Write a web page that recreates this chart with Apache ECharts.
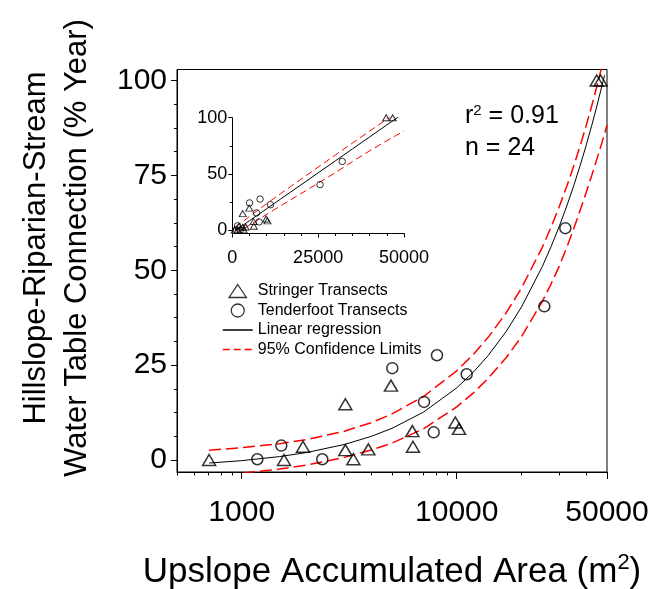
<!DOCTYPE html>
<html><head><meta charset="utf-8">
<script src="https://cdn.jsdelivr.net/npm/echarts@6/dist/echarts.min.js"></script>
<style>html,body{margin:0;padding:0;background:#fff}#c{width:662px;height:589px}</style>
</head><body><div id="c"></div>
<script>
// ---- data ----
const stringerArea = [705, 1573, 1927, 3034, 3034, 3305, 3881, 4946, 6216, 6260, 9850, 10250, 44800, 46700];
const stringerConn = [0, 0, 3.5, 14.7, 2.6, 0.2, 2.8, 19.6, 7.6, 3.5, 9.9, 8.2, 100, 100];
const tenderfootArea = [1182, 1528, 2370, 5016, 7046, 7816, 8095, 11125, 25550, 32000];
const tenderfootConn = [0.2, 3.8, 0.2, 24.2, 15.3, 7.3, 27.6, 22.6, 40.5, 61.1];
const fitArea = [705, 1000, 1500, 2000, 3000, 4000, 5000, 7000, 10000, 12000, 14000, 17000, 20000, 25000, 27500, 30000, 32500, 35000, 37500, 40000, 42500, 45000, 48700];
const fitConn = [-0.8, -0.17, 0.9, 1.96, 4.09, 6.22, 8.35, 12.61, 19.0, 23.26, 27.52, 33.91, 40.3, 50.95, 56.28, 61.6, 66.93, 72.25, 77.58, 82.9, 88.23, 93.55, 101.4];
const upperArea = [705, 1000, 1500, 2000, 3000, 4000, 5000, 7000, 10000, 12000, 14000, 17000, 20000, 25000, 27500, 30000, 32500, 35000, 37500, 40000, 42500, 45000, 47500];
const upperConn = [2.6, 3.23, 4.3, 5.36, 7.59, 9.82, 12.15, 16.71, 23.5, 27.91, 32.32, 38.81, 45.3, 56.05, 61.43, 66.8, 72.13, 77.45, 82.78, 88.1, 93.43, 98.75, 104.1];
const lowerArea = [705, 1000, 1500, 2000, 3000, 4000, 5000, 7000, 10000, 12000, 14000, 17000, 20000, 25000, 27500, 30000, 32500, 35000, 37500, 40000, 42500, 45000, 47500, 50000];
const lowerConn = [-4.1, -3.47, -2.4, -1.34, 0.69, 2.62, 4.45, 8.21, 14.0, 17.76, 21.52, 27.01, 32.5, 41.75, 46.43, 51.1, 56.03, 60.95, 65.78, 70.5, 75.03, 79.55, 83.88, 88.2];

const mainXMajorTicks = [1000, 10000, 50000];
const mainXMinorTicks = [500, 600, 700, 800, 900, 2000, 3000, 4000, 5000, 6000, 7000, 8000, 9000, 20000, 30000, 40000];
const mainYMajorTicks = [0, 25, 50, 75, 100];
const mainYMinorTicks = [6.25, 12.5, 18.75, 31.25, 37.5, 43.75, 56.25, 62.5, 68.75, 81.25, 87.5, 93.75];
const insetYMajorTicks = [0, 50, 100];
const insetYMinorTicks = [25, 75];

const NAMES = ['Stringer Transects', 'Tenderfoot Transects', 'Linear regression', '95% Confidence Limits'];
const FONT = 'Liberation Sans';

const zip = (a, b) => a.map((v, i) => [v, b[i]]);
const lg = v => Math.log10(v);

const chart = echarts.init(document.getElementById('c'), null, {renderer: 'canvas'});

const hiddenLine = {show: false, onZero: false};
const option = {
  animation: false,
  textStyle: {fontFamily: FONT, color: '#000'},
  grid: [
    {left: 177, top: 69.5, width: 430, height: 402.5, show: true, borderColor: '#000', borderWidth: 1, backgroundColor: 'transparent'},
    {left: 232.3, top: 117.7, width: 171.7, height: 115.8, show: false}
  ],
  legend: {
    left: 217, top: 278, orient: 'vertical', itemWidth: 30, itemHeight: 13, itemGap: 3.5,
    selectedMode: false, symbolKeepAspect: true,
    textStyle: {fontSize: 16, fontFamily: FONT, color: '#000'},
    data: [
      {name: NAMES[0], icon: 'path://M8,0L16,12L0,12Z', itemStyle: {color: 'rgba(0,0,0,0)', borderColor: '#000', borderWidth: 1.3}},
      {name: NAMES[1], icon: 'circle', itemStyle: {color: 'rgba(0,0,0,0)', borderColor: '#000', borderWidth: 1.3}},
      {name: NAMES[2], itemStyle: {opacity: 0}, lineStyle: {color: '#000', width: 1.5}},
      {name: NAMES[3], itemStyle: {opacity: 0}, lineStyle: {type: [7, 4], width: 1.5, color: '#ff0000'}}
    ]
  },
  xAxis: [
    { // main log axis (data)
      type: 'log', logBase: 10, gridIndex: 0, min: 500, max: 50000, position: 'bottom',
      axisLine: {show: true, onZero: false, lineStyle: {color: '#000', width: 1}},
      axisTick: {show: false}, axisLabel: {show: false}, splitLine: {show: false}, minorTick: {show: false}
    },
    { // main major ticks + labels
      type: 'value', gridIndex: 0, min: lg(500), max: lg(50000), position: 'bottom',
      axisLine: hiddenLine, splitLine: {show: false},
      axisTick: {show: true, length: 7, lineStyle: {color: '#000'}, customValues: mainXMajorTicks.map(lg)},
      axisLabel: {show: true, fontSize: 30, fontFamily: FONT, color: '#000', margin: 26,
        customValues: mainXMajorTicks.map(lg), formatter: v => String(Math.round(Math.pow(10, v)))}
    },
    { // main minor ticks
      type: 'value', gridIndex: 0, min: lg(500), max: lg(50000), position: 'bottom',
      axisLine: hiddenLine, splitLine: {show: false},
      axisTick: {show: true, length: 3.5, lineStyle: {color: '#000'}, customValues: mainXMinorTicks.map(lg)},
      axisLabel: {show: false}
    },
    { // inset x
      type: 'value', gridIndex: 1, min: 0, max: 50000, interval: 25000, position: 'bottom',
      axisLine: {show: true, onZero: false, lineStyle: {color: '#000'}}, splitLine: {show: false},
      axisTick: {show: true, length: 4, lineStyle: {color: '#000'}},
      axisLabel: {show: true, fontSize: 18, fontFamily: FONT, color: '#000', margin: 16, formatter: v => String(v)}
    },
    { // inset x minor
      type: 'value', gridIndex: 1, min: 0, max: 50000, interval: 5000, position: 'bottom',
      axisLine: hiddenLine, splitLine: {show: false},
      axisTick: {show: true, length: 2.5, lineStyle: {color: '#000'}}, axisLabel: {show: false}
    }
  ],
  yAxis: [
    {
      type: 'value', gridIndex: 0, min: -3.16, max: 102.9, position: 'left',
      axisLine: {show: true, onZero: false, lineStyle: {color: '#000'}}, splitLine: {show: false},
      axisTick: {show: true, length: 6, lineStyle: {color: '#000'}, customValues: mainYMajorTicks},
      axisLabel: {show: true, fontSize: 30, fontFamily: FONT, color: '#000', margin: 10, customValues: mainYMajorTicks}
    },
    {
      type: 'value', gridIndex: 0, min: -3.16, max: 102.9, position: 'left',
      axisLine: hiddenLine, splitLine: {show: false},
      axisTick: {show: true, length: 3, lineStyle: {color: '#000'}, customValues: mainYMinorTicks},
      axisLabel: {show: false}
    },
    {
      type: 'value', gridIndex: 1, min: -3, max: 100, position: 'left',
      axisLine: {show: true, onZero: false, lineStyle: {color: '#000'}}, splitLine: {show: false},
      axisTick: {show: true, length: 4, lineStyle: {color: '#000'}, customValues: insetYMajorTicks},
      axisLabel: {show: true, fontSize: 18, fontFamily: FONT, color: '#000', margin: 5, customValues: insetYMajorTicks}
    },
    {
      type: 'value', gridIndex: 1, min: -3, max: 100, position: 'left',
      axisLine: hiddenLine, splitLine: {show: false},
      axisTick: {show: true, length: 2.5, lineStyle: {color: '#000'}, customValues: insetYMinorTicks},
      axisLabel: {show: false}
    }
  ],
  series: [
    // main chart
    {name: NAMES[2], type: 'line', xAxisIndex: 0, yAxisIndex: 0, data: zip(fitArea, fitConn), showSymbol: false, symbol: 'none',
      lineStyle: {color: '#000', width: 1}, z: 2},
    {name: NAMES[3], type: 'line', xAxisIndex: 0, yAxisIndex: 0, data: zip(upperArea, upperConn), showSymbol: false, symbol: 'none',
      lineStyle: {color: '#ff0000', width: 1.5, type: [12, 5]}, z: 2},
    {name: NAMES[3], type: 'line', xAxisIndex: 0, yAxisIndex: 0, data: zip(lowerArea, lowerConn), showSymbol: false, symbol: 'none',
      lineStyle: {color: '#ff0000', width: 1.5, type: [12, 5]}, z: 2},
    {name: NAMES[0], type: 'scatter', xAxisIndex: 0, yAxisIndex: 0, data: zip(stringerArea, stringerConn), symbol: 'triangle', symbolSize: [13, 11],
      itemStyle: {color: 'rgba(0,0,0,0)', borderColor: '#000', borderWidth: 1.5}, z: 3},
    {name: NAMES[1], type: 'scatter', xAxisIndex: 0, yAxisIndex: 0, data: zip(tenderfootArea, tenderfootConn), symbol: 'circle', symbolSize: 11,
      itemStyle: {color: 'rgba(0,0,0,0)', borderColor: '#000', borderWidth: 1.5}, z: 3},
    // inset (linear axes)
    {name: NAMES[2], type: 'line', xAxisIndex: 3, yAxisIndex: 2, data: zip(fitArea, fitConn), showSymbol: false, symbol: 'none',
      lineStyle: {color: '#000', width: 1}, z: 2},
    {name: NAMES[3], type: 'line', xAxisIndex: 3, yAxisIndex: 2, data: zip(upperArea, upperConn), showSymbol: false, symbol: 'none',
      lineStyle: {color: '#ff0000', width: 1, type: [7, 4]}, z: 2},
    {name: NAMES[3], type: 'line', xAxisIndex: 3, yAxisIndex: 2, data: zip(lowerArea, lowerConn), showSymbol: false, symbol: 'none',
      lineStyle: {color: '#ff0000', width: 1, type: [7, 4]}, z: 2},
    {name: NAMES[0], type: 'scatter', xAxisIndex: 3, yAxisIndex: 2, data: zip(stringerArea, stringerConn), symbol: 'triangle', symbolSize: [7, 6],
      itemStyle: {color: 'rgba(0,0,0,0)', borderColor: '#000', borderWidth: 1}, z: 3},
    {name: NAMES[1], type: 'scatter', xAxisIndex: 3, yAxisIndex: 2, data: zip(tenderfootArea, tenderfootConn), symbol: 'circle', symbolSize: 6.5,
      itemStyle: {color: 'rgba(0,0,0,0)', borderColor: '#000', borderWidth: 1}, z: 3}
  ],
  graphic: [
    {type: 'text', x: 465, y: 116, style: {
      text: '{a|r}{s|2}{a| = 0.91}', verticalAlign: 'middle', align: 'left',
      rich: {a: {fontSize: 25, fontFamily: FONT, fill: '#000', lineHeight: 30}, s: {fontSize: 15, fontFamily: FONT, fill: '#000', verticalAlign: 'top', lineHeight: 15, padding: [2, 0, 0, 0]}}
    }},
    {type: 'text', x: 465, y: 148, style: {text: 'n = 24', fontSize: 25, fontFamily: FONT, fill: '#000', verticalAlign: 'middle', align: 'left'}},
    {type: 'text', x: 392, y: 572, style: {
      text: '{a|Upslope Accumulated Area (m}{s|2}{a|)}', verticalAlign: 'middle', align: 'center',
      rich: {a: {fontSize: 35, fontFamily: FONT, fill: '#000', lineHeight: 40}, s: {fontSize: 22, fontFamily: FONT, fill: '#000', verticalAlign: 'top', lineHeight: 22}}
    }},
    {type: 'text', x: 36, y: 248, rotation: Math.PI / 2, style: {text: 'Hillslope-Riparian-Stream', fontSize: 31, fontFamily: FONT, fill: '#000', align: 'center', verticalAlign: 'middle'}},
    {type: 'text', x: 77, y: 248, rotation: Math.PI / 2, style: {text: 'Water Table Connection (% Year)', fontSize: 31, fontFamily: FONT, fill: '#000', align: 'center', verticalAlign: 'middle'}}
  ]
};
chart.setOption(option);
</script></body></html>
